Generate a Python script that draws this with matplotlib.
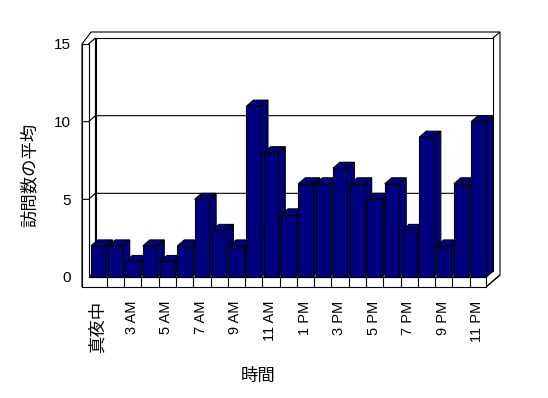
import matplotlib
matplotlib.use("Agg")
import matplotlib.pyplot as plt
from matplotlib.patches import Polygon
import numpy as np

plt.rcParams["font.family"] = ["Liberation Sans", "Noto Sans CJK JP"]

hours = ["真夜中", "1 AM", "3 AM", "4 AM", "5 AM", "6 AM", "7 AM", "8 AM", "9 AM",
         "10 AM", "11 AM", "12 PM", "1 PM", "2 PM", "3 PM", "4 PM", "5 PM", "6 PM",
         "7 PM", "8 PM", "9 PM", "10 PM", "11 PM"]
visits = [2, 2, 1, 2, 1, 2, 5, 3, 2, 11, 8, 4, 6, 6, 7, 6, 5, 6, 3, 9, 2, 6, 10]
y_ticks = [0, 5, 10, 15]

navy = "#000080"
lw = 0.8
W, H = 548, 398
fig = plt.figure(figsize=(W / 100, H / 100), dpi=100)

# front plane of the 3d box in pixels
left, right, bottom, top = 88.5, 486, 277, 44
ax = fig.add_axes([left / W, 1 - bottom / H, (right - left) / W, (bottom - top) / H])
n = len(hours)
x = np.arange(n)
ymax = y_ticks[-1]
x0, x1 = -0.5, n - 0.5
ax.set_xlim(x0, x1)
ax.set_ylim(0, ymax)
for s in ax.spines.values():
    s.set_visible(False)

ux = (right - left) / n
uy = (bottom - top) / ymax
dx, dy = 7 / ux, 6 / uy  # depth of the box
wall = 6.5 / ux
floor = 10 / uy


def poly(pts, z, fc="white"):
    ax.add_patch(Polygon(pts, closed=True, facecolor=fc, edgecolor="black",
                         lw=lw, zorder=z, clip_on=False, joinstyle="miter"))


def line(xs, ys, z=1.5):
    ax.plot(xs, ys, color="black", lw=lw, zorder=z, clip_on=False,
            solid_capstyle="butt")


# outer shell of walls and floor
poly([(x0 - wall, -floor), (x0 - wall, ymax), (x0 - wall + 1.3 * dx, ymax + 2 * dy),
      (x1 + 2 * dx, ymax + 2 * dy), (x1 + 2 * dx, -floor + 2 * dy), (x1, -floor)], 0.5)
# back wall
poly([(x0 + dx, dy), (x1 + dx, dy), (x1 + dx, ymax + dy), (x0 + dx, ymax + dy)], 1)
# left wall side and floor top
poly([(x0, 0), (x0, ymax), (x0 + dx, ymax + dy), (x0 + dx, dy)], 1)
poly([(x0, 0), (x1, 0), (x1 + dx, dy), (x0 + dx, dy)], 1)
# front faces of left wall and floor
poly([(x0 - wall, -floor), (x1, -floor), (x1, 0), (x0, 0), (x0, ymax), (x0 - wall, ymax)], 2)
line([x1 + dx, x1 + 2 * dx], [ymax + dy, ymax + 2 * dy])
line([x1, x1 + dx], [0, dy])
line([x1, x1 + 2 * dx], [-floor, -floor + 2 * dy])

# gridlines
for v in y_ticks[1:-1]:
    line([x0 - wall, x0, x0 + dx, x1 + dx], [v, v, v + dy, v + dy], 2.1)

# category ticks on floor
for i in x[:-1]:
    line([i + 0.56, i + 0.56], [-floor, 0], 2.1)

bars = ax.bar(x + 0.06, visits, width=0.84, color=navy, edgecolor="black",
              lw=lw, clip_on=False)
for i, r in enumerate(bars):
    z = 3 + i * 0.01
    bx, bw, bh = r.get_x(), r.get_width(), r.get_height()
    poly([(bx + bw, 0), (bx + bw + dx, dy), (bx + bw + dx, bh + dy), (bx + bw, bh)], z, navy)
    poly([(bx, bh), (bx + bw, bh), (bx + bw + dx, bh + dy), (bx + dx, bh + dy)], z, navy)
    r.set_zorder(z + 0.005)

ax.set_xticks(x[::2], hours[::2], fontsize=10.5)
plt.setp(ax.get_xticklabels(), rotation=90, ha="right", va="center",
         rotation_mode="anchor")
ax.get_xticklabels()[0].set_fontsize(12.5)
ax.set_yticks(y_ticks, [str(v) for v in y_ticks], fontsize=11)
ax.tick_params(axis="x", length=0, pad=17)
ax.tick_params(axis="y", length=0, pad=13)

ax.set_ylabel("訪問数の平均", fontsize=12.5)
ax.yaxis.set_label_coords(-0.127, 0.438)
ax.set_xlabel("時間", fontsize=12.5)
ax.xaxis.set_label_coords(0.427, -0.391)

fig.savefig("out.png", dpi=100)
